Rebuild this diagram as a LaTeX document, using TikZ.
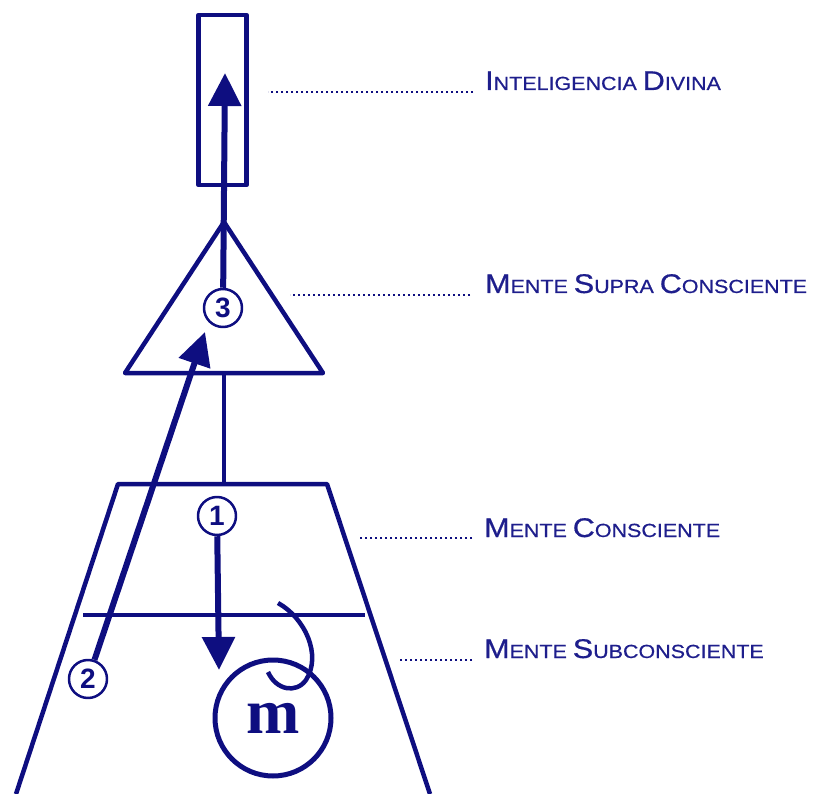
\documentclass[tikz,border=0pt]{standalone}
\usepackage{fontspec}
\setmainfont{Liberation Sans}
\newfontfamily\lblfont[FakeStretch=1.13, FakeBold=0.6]{Liberation Sans}
\newfontfamily\mfont{Liberation Serif}
\usetikzlibrary{arrows.meta}
\definecolor{mindblue}{RGB}{14,14,128}
\definecolor{lblblue}{RGB}{30,30,140}
\newcommand\fsc[2]{{\fontsize{27}{27}\selectfont #1}{\fontsize{19}{19}\selectfont #2}}

\begin{document}
\begin{tikzpicture}[x=1pt, y=-1pt, line join=round, mindblue,
	num/.style={circle, draw, line width=2.5pt, minimum size=38pt, inner sep=0pt, font=\fontsize{28}{28}\selectfont\bfseries},
	leader/.style={line width=2.6pt, dash pattern=on 2.2pt off 2.8pt},
	lbl/.style={anchor=base west, inner sep=0pt, text=lblblue, font=\lblfont\fontsize{19}{19}\selectfont},
	tip/.style={-{Triangle[length=33pt,width=32pt]}, line width=6pt}]
	\useasboundingbox (0,0) rectangle (814,794);
	%
	\node [draw, line width=4.5pt, minimum width=48pt, minimum height=170pt, inner sep=0pt] (divina) at (222.5,100) {};
	\draw [line width=4.5pt] (224,222) -- (323,373) -- (125,373) -- cycle;
	\draw [line width=4pt] (224,373) -- (224,484);
	\draw [line width=4.5pt] (16,794) -- (118,484) -- (327,484) -- (430,794);
	\draw [line width=4pt] (83,615) -- (365,615);
	%
	\node [num] (n3) at (223,308) {3};
	\node [num] (n1) at (217,516) {1};
	\node [num] (n2) at (88,679) {2};
	\node [circle, draw, line width=5pt, minimum size=116pt, inner sep=0pt, font=\mfont\bfseries\fontsize{64}{64}\selectfont] (m) at (273,718) {m};
	\coordinate (top3) at (225,73);
	\coordinate (tip1) at (219,670);
	\coordinate (tip2) at (205,332);
	\draw [tip] (n3) -- (top3);
	\draw [tip] (n1) -- (tip1);
	\draw [tip] (n2) -- (tip2);
	\draw [line width=4.5pt] (278,603) .. controls (305,618) and (322,655) .. (306,680) .. controls (296,694) and (276,690) .. (268,672);
	%
	\node [lbl] (ldivina) at (485,90) {\fsc{I}{NTELIGENCIA} \fsc{D}{IVINA}};
	\node [lbl] (lsupra) at (485,293) {\fsc{M}{ENTE} \fsc{S}{UPRA} \fsc{C}{ONSCIENTE}};
	\node [lbl] (lcons) at (484,537) {\fsc{M}{ENTE} \fsc{C}{ONSCIENTE}};
	\node [lbl] (lsub) at (484,658) {\fsc{M}{ENTE} \fsc{S}{UBCONSCIENTE}};
	\draw [leader] ([xshift=-12pt, yshift=-2pt]ldivina.base west) -- ++(-205,0);
	\draw [leader] ([xshift=-15pt, yshift=-2pt]lsupra.base west) -- ++(-180,0);
	\draw [leader] ([xshift=-12pt, yshift=-1pt]lcons.base west) -- ++(-113,0);
	\draw [leader] ([xshift=-12pt, yshift=-2pt]lsub.base west) -- ++(-74,0);
\end{tikzpicture}
\end{document}
